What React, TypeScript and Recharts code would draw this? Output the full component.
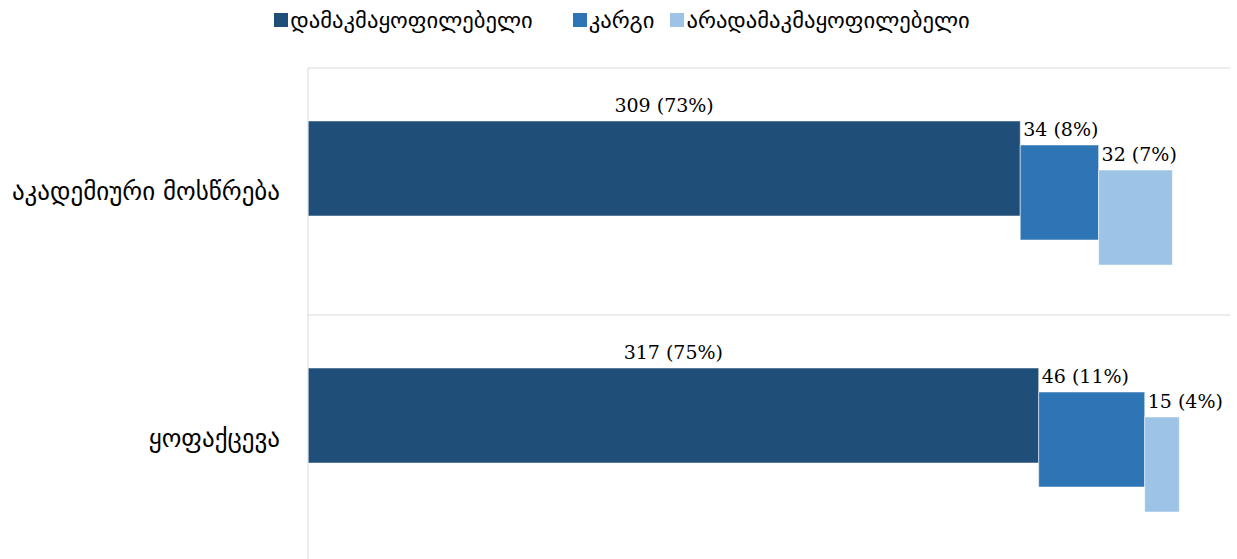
import { Bar, BarChart, CartesianGrid, LabelList, Legend, XAxis, YAxis } from 'recharts'

const categories = ['აკადემიური მოსწრება', 'ყოფაქცევა']
const seriesNames = ['დამაკმაყოფილებელი', 'კარგი', 'არადამაკმაყოფილებელი']
const satisfactory = [309, 317]
const good = [34, 46]
const unsatisfactory = [32, 15]
const satisfactoryPct = [73, 75]
const goodPct = [8, 11]
const unsatisfactoryPct = [7, 4]

const colors = ['#1F4E79', '#2E75B6', '#9DC3E6']
const shifts = [-23, 1, 26]
const georgianFont = '"DejaVu Sans", sans-serif'
const numberFont = '"DejaVu Serif", serif'

const data = categories.map((name, i) => ({
  name,
  s0: satisfactory[i],
  s1: good[i],
  s2: unsatisfactory[i],
  p0: satisfactoryPct[i],
  p1: goodPct[i],
  p2: unsatisfactoryPct[i],
}))

const shiftedShape = (shift: number) => (props: any) => {
  const { x, y, width, height, fill } = props
  return <rect x={x} y={y + shift} width={width} height={height} fill={fill} stroke="#ffffff" strokeOpacity={0.5} strokeWidth={1} />
}

const labelFor = (idx: number) => (props: any) => {
  const { x, y, width, index } = props
  const row = data[index]
  const text = `${(row as any)['s' + idx]} (${(row as any)['p' + idx]}%)`
  const centered = idx === 0
  return (
    <text
      x={centered ? x + width / 2 : x + 3}
      y={y + shifts[idx] - 9}
      textAnchor={centered ? 'middle' : 'start'}
      fontFamily={numberFont}
      fontSize={19}
      fill="#000"
    >
      {text}
    </text>
  )
}

function LegendContent() {
  const gaps = [40, 16, 0]
  return (
    <div style={{ display: 'flex', justifyContent: 'center', alignItems: 'center', height: 24, fontFamily: georgianFont, fontSize: 22.6, color: '#000', paddingLeft: 14 }}>
      {seriesNames.map((n, i) => (
        <div key={n} style={{ display: 'flex', alignItems: 'center', marginRight: gaps[i] }}>
          <span style={{ display: 'inline-block', width: 14, height: 14, background: colors[i], marginRight: 2 }} />
          <span>{n}</span>
        </div>
      ))}
    </div>
  )
}

export default function App() {
  return (
    <div style={{ position: 'fixed', left: 0, top: 0, width: 1237, height: 559, overflow: 'hidden', background: '#fff' }}>
      <BarChart
        width={1237}
        height={562}
        data={data}
        layout="vertical"
        barCategoryGap={0}
        margin={{ top: 8, right: 7, left: 0, bottom: 0 }}
      >
        <CartesianGrid
          vertical={false}
          stroke="#d9d9d9"
          horizontalCoordinatesGenerator={({ offset }: any) =>
            categories.map((_, i) => offset.top + (offset.height / categories.length) * i).concat([offset.top + offset.height])
          }
        />
        <XAxis type="number" domain={[0, 400]} hide />
        <YAxis
          type="category"
          dataKey="name"
          width={308}
          tickLine={false}
          tickSize={0}
          tickMargin={28}
          axisLine={{ stroke: '#d9d9d9' }}
          tick={{ fill: '#000', fontSize: 25, fontFamily: georgianFont }}
        />
        <Legend verticalAlign="top" height={60} content={<LegendContent />} />
        {[0, 1, 2].map((i) => (
          <Bar
            key={i}
            dataKey={'s' + i}
            name={seriesNames[i]}
            stackId="a"
            barSize={95}
            fill={colors[i]}
            shape={shiftedShape(shifts[i])}
            isAnimationActive={false}
          >
            <LabelList dataKey={'s' + i} content={labelFor(i)} />
          </Bar>
        ))}
      </BarChart>
    </div>
  )
}
